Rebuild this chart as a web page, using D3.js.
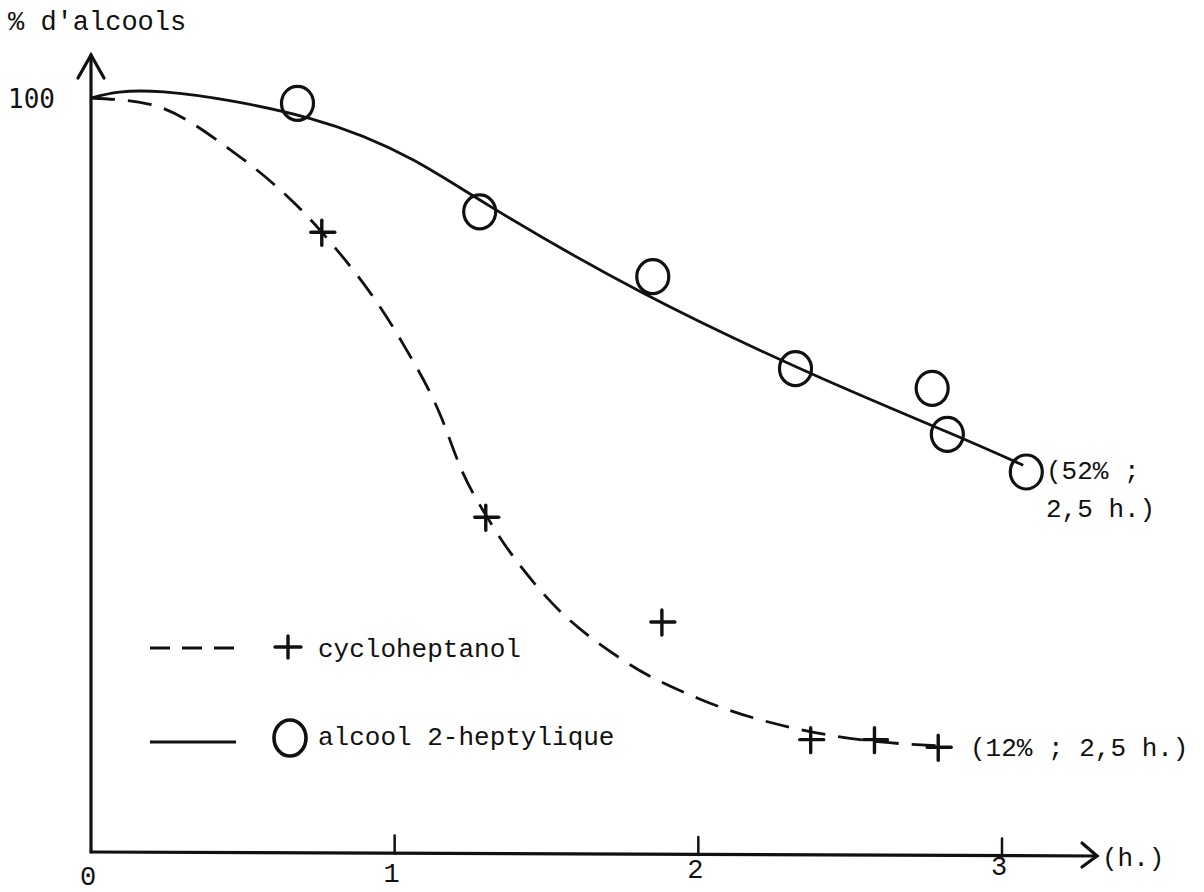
<!DOCTYPE html>
<html>
<head>
<meta charset="utf-8">
<script src="https://cdn.jsdelivr.net/npm/d3@7"></script>
<style>
  body { margin: 0; background: #fff; }
  svg { display: block; }
  text { font-family: "Liberation Mono", "DejaVu Sans Mono", monospace; fill: #111; }
</style>
</head>
<body>
<svg width="1204" height="892"></svg>
<script>
// Axis ticks (hours)
const xTicks = [0, 1, 2, 3]

// alcool 2-heptylique : measured points (circles)
const heptylTime = [0.68, 1.28, 1.85, 2.32, 2.77, 2.82, 3.08]
const heptylPct = [99.3, 84.9, 76.3, 64.1, 61.5, 55.4, 50.4]
// fitted curve drawn by hand (solid)
const heptylCurveTime = [0, 0.24, 0.72, 1.06, 1.32, 1.81, 2.38, 2.82, 3.07]
const heptylCurvePct = [100, 100.8, 97.3, 91.8, 85.5, 74.3, 63.3, 55.7, 51.3]

// cycloheptanol : measured points (crosses)
const cycloTime = [0.76, 1.30, 1.88, 2.37, 2.58, 2.79]
const cycloPct = [82.2, 44.4, 30.5, 14.9, 14.9, 13.9]
// fitted curve (dashed)
const cycloCurveTime = [0, 0.19, 0.46, 0.76, 1.02, 1.15, 1.22, 1.32, 1.48, 1.75, 2.01, 2.34, 2.60, 2.79]
const cycloCurvePct = [100, 99.2, 93.1, 82.2, 67.9, 58.0, 50.7, 43.4, 34.7, 25.5, 20.2, 16.2, 14.6, 14.1]

const svg = d3.select('svg')

// Scales
const x = d3.scaleLinear().domain([0, 3]).range([91, 1002])
const y = d3.scaleLinear().domain([0, 100]).range([852, 98])

const zip = (a, b) => a.map((v, i) => [v, b[i]])
const solidLine = d3.line()
  .x(d => x(d[0]))
  .y(d => y(d[1]))
  .curve(d3.curveNatural)
const dashLine = d3.line()
  .x(d => x(d[0]))
  .y(d => y(d[1]))
  .curve(d3.curveMonotoneX)

// Axes
const axes = svg.append('g')
  .attr('stroke', '#111')
  .attr('fill', 'none')
  .attr('stroke-width', 3.2)
  .attr('stroke-linecap', 'round')

// y axis with arrow
axes.append('line')
  .attr('x1', x(0)).attr('y1', y(0))
  .attr('x2', x(0)).attr('y2', 55)
axes.append('path')
  .attr('d', `M${x(0) - 13},78 L${x(0)},55 L${x(0) + 13},78`)

// x axis with arrow
axes.append('line')
  .attr('x1', x(0)).attr('y1', y(0))
  .attr('x2', 1097).attr('y2', y(0) + 4)
axes.append('path')
  .attr('d', `M1082,${y(0) - 9} L1097,${y(0) + 4} L1082,${y(0) + 15}`)

// small ticks above the x axis
axes.selectAll('.tick')
  .data(xTicks.filter(d => d > 0))
  .enter()
  .append('line')
  .attr('class', 'tick')
  .attr('stroke-width', 2.5)
  .attr('x1', d => x(d)).attr('x2', d => x(d))
  .attr('y1', d => y(0) - 18 + d * 1.5).attr('y2', d => y(0) + d * 1.5)

// x tick labels
svg.selectAll('.xlabel')
  .data(xTicks)
  .enter()
  .append('text')
  .attr('class', 'xlabel')
  .attr('x', d => x(d) - 3)
  .attr('y', d => 885 - d * 3.5)
  .attr('text-anchor', 'middle')
  .attr('font-size', 27)
  .text(d => d)

svg.append('text').attr('x', 1102).attr('y', 866).attr('font-size', 26).text('(h.)')

// y labels
svg.append('text').attr('x', 8).attr('y', 108).attr('font-size', 26)
  .style('font-family', 'DejaVu Sans Mono, monospace').text('100')
svg.append('text').attr('x', 8).attr('y', 30).attr('font-size', 27).text("% d'alcools")

// Curves
svg.append('path')
  .datum(zip(heptylCurveTime, heptylCurvePct))
  .attr('d', solidLine)
  .attr('fill', 'none')
  .attr('stroke', '#111')
  .attr('stroke-width', 2.8)

svg.append('path')
  .datum(zip(cycloCurveTime, cycloCurvePct))
  .attr('d', dashLine)
  .attr('fill', 'none')
  .attr('stroke', '#111')
  .attr('stroke-width', 2.8)
  .attr('stroke-dasharray', '24 13')

// Circle markers
svg.selectAll('.circ')
  .data(zip(heptylTime, heptylPct))
  .enter()
  .append('ellipse')
  .attr('class', 'circ')
  .attr('cx', d => x(d[0]))
  .attr('cy', d => y(d[1]))
  .attr('rx', 16).attr('ry', 17)
  .attr('fill', 'none')
  .attr('stroke', '#111')
  .attr('stroke-width', 3.2)

// Cross markers
const cross = svg.selectAll('.cross')
  .data(zip(cycloTime, cycloPct))
  .enter()
  .append('g')
  .attr('class', 'cross')
  .attr('transform', d => `translate(${x(d[0])},${y(d[1])})`)
  .attr('stroke', '#111')
  .attr('stroke-width', 3.4)
  .attr('stroke-linecap', 'round')
cross.append('line').attr('x1', -11).attr('x2', 13).attr('y1', 0).attr('y2', 0)
cross.append('line').attr('x1', 0).attr('x2', 0).attr('y1', -12).attr('y2', 13)

// End annotations
svg.append('text').attr('x', 1046).attr('y', 479).attr('font-size', 26).text('(52% ;')
svg.append('text').attr('x', 1046).attr('y', 517).attr('font-size', 26).text('2,5 h.)')
svg.append('text').attr('x', 970).attr('y', 756).attr('font-size', 26).text('(12% ; 2,5 h.)')

// Legend
const legend = svg.append('g')
legend.append('line')
  .attr('x1', 150).attr('x2', 236).attr('y1', 648).attr('y2', 648)
  .attr('stroke', '#111').attr('stroke-width', 3.2).attr('stroke-dasharray', '20 12')
const lc = legend.append('g').attr('transform', 'translate(288,647)')
  .attr('stroke', '#111').attr('stroke-width', 3.4).attr('stroke-linecap', 'round')
lc.append('line').attr('x1', -13).attr('x2', 13)
lc.append('line').attr('y1', -11).attr('y2', 11)
legend.append('text').attr('x', 318).attr('y', 657).attr('font-size', 26).text('cycloheptanol')

legend.append('line')
  .attr('x1', 150).attr('x2', 236).attr('y1', 742).attr('y2', 742)
  .attr('stroke', '#111').attr('stroke-width', 2.8)
legend.append('ellipse')
  .attr('cx', 290).attr('cy', 738).attr('rx', 16).attr('ry', 18)
  .attr('fill', 'none').attr('stroke', '#111').attr('stroke-width', 3.6)
legend.append('text').attr('x', 318).attr('y', 745).attr('font-size', 26).text('alcool 2-heptylique')
</script>
</body>
</html>
